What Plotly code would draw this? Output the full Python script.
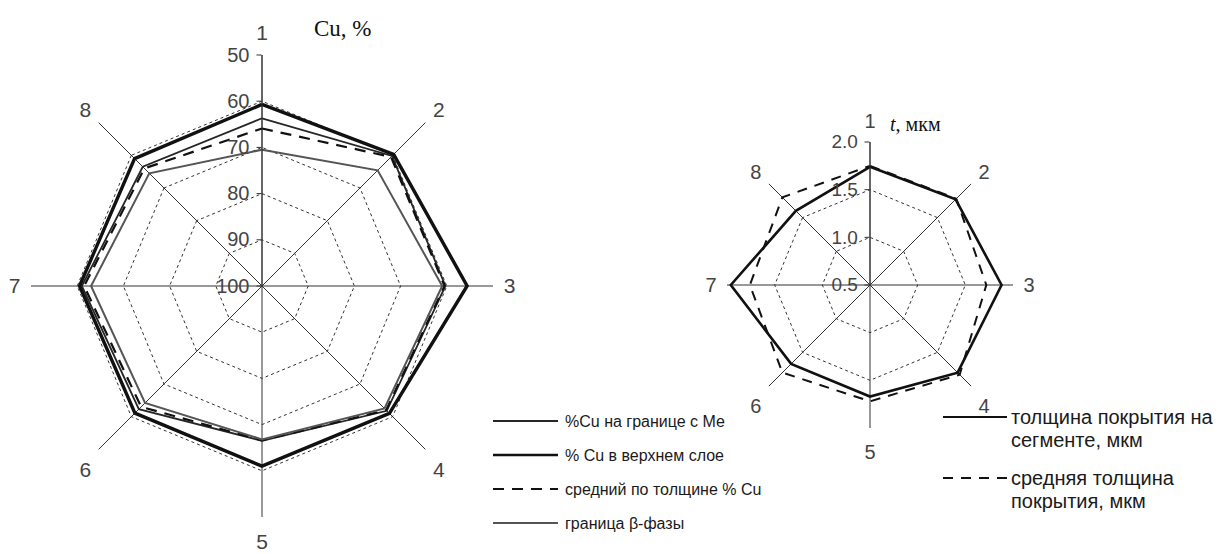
import plotly.graph_objects as go

# Segment numbers around each specimen
segments = ["1", "2", "3", "4", "5", "6", "7", "8"]

# Copper content, % (left diagram)
cu_me_boundary = [63.7, 60.2, 60.3, 61.8, 66.5, 62.3, 61.0, 63.5]
cu_top_layer = [60.7, 59.7, 55.6, 61.0, 61.0, 61.1, 60.5, 61.0]
cu_mean = [65.9, 60.5, 60.5, 62.0, 66.6, 63.0, 61.5, 64.0]
beta_boundary = [70.5, 64.6, 61.0, 62.5, 66.8, 64.2, 63.0, 65.5]

# Coating thickness, um (right diagram)
thickness_segment = [1.74, 1.77, 1.88, 1.80, 1.67, 1.67, 1.96, 1.60]
thickness_mean = [1.75, 1.78, 1.72, 1.83, 1.72, 1.80, 1.76, 1.80]

cu_ticks = [50, 60, 70, 80, 90, 100]
t_ticks = [0.5, 1.0, 1.5, 2.0]

W, H = 1226, 554
LABEL_FONT = "Liberation Sans, Arial, sans-serif"


def closed(seq):
    return list(seq) + [seq[0]]


fig = go.Figure()

cu_series = [
    ("%Cu на границе с Ме", cu_me_boundary, dict(color="#262626", width=1.8)),
    ("% Cu в верхнем слое", cu_top_layer, dict(color="#111111", width=3.4)),
    ("средний по толщине % Cu", cu_mean, dict(color="#111111", width=2.2, dash="11px,8px")),
    ("граница β-фазы", beta_boundary, dict(color="#555555", width=2.0)),
]
for name, vals, line in cu_series:
    fig.add_trace(go.Scatterpolar(
        r=closed(vals), theta=closed(segments), mode="lines", name=name,
        line=line, subplot="polar", showlegend=False,
    ))

t_series = [
    ("толщина покрытия на сегменте, мкм", thickness_segment, dict(color="#111111", width=2.6)),
    ("средняя толщина покрытия, мкм", thickness_mean, dict(color="#111111", width=2.0, dash="10px,8px")),
]
for name, vals, line in t_series:
    fig.add_trace(go.Scatterpolar(
        r=closed(vals), theta=closed(segments), mode="lines", name=name,
        line=line, subplot="polar2", showlegend=False,
    ))


def polar_layout(cx, cy, rad, rng, ticks, fmt, tick_size):
    return dict(
        domain=dict(x=[(cx - rad) / W, (cx + rad) / W],
                    y=[(H - cy - rad) / H, (H - cy + rad) / H]),
        gridshape="linear",
        bgcolor="white",
        radialaxis=dict(
            range=rng, tickvals=ticks, tickformat=fmt, angle=90,
            side="counterclockwise", showline=True, linecolor="#333333",
            linewidth=1, ticks="outside", ticklen=5, tickcolor="#333333",
            showgrid=True, gridcolor="#333333", gridwidth=1, griddash="3px,3px",
            tickfont=dict(family=LABEL_FONT, size=tick_size, color="#444444"),
            tickangle=90,
        ),
        angularaxis=dict(
            type="category", categoryarray=segments, rotation=90,
            direction="clockwise", showline=False, showgrid=True,
            gridcolor="#333333", gridwidth=1, ticks="outside", ticklen=6,
            tickcolor="rgba(0,0,0,0)",
            tickfont=dict(family=LABEL_FONT, size=tick_size + 1, color="#444444"),
        ),
    )


fig.update_layout(
    width=W, height=H,
    margin=dict(l=0, r=0, t=0, b=0),
    paper_bgcolor="white", plot_bgcolor="white",
    polar=polar_layout(262, 286, 231, [100, 50], cu_ticks, "d", 20),
    polar2=polar_layout(870, 285, 143, [0.5, 2.0], t_ticks, ".1f", 19),
    showlegend=False,
)


def px(x):
    return x / W


def py(y):
    return 1 - y / H


# Axis captions
fig.add_annotation(x=px(312), y=py(28), xref="paper", yref="paper",
                   text="Cu, %", showarrow=False, xanchor="left", yanchor="middle",
                   font=dict(family="Liberation Serif, Times New Roman, serif",
                             size=23, color="#111111"))
fig.add_annotation(x=px(888), y=py(124), xref="paper", yref="paper",
                   text="<i>t</i>, мкм", showarrow=False, xanchor="left", yanchor="middle",
                   font=dict(family="Liberation Serif, Times New Roman, serif",
                             size=20, color="#111111"))

# Key for the copper diagram
legend_font = dict(family="Liberation Sans, Arial, sans-serif", size=16, color="#1a1a1a")
rows_cu = [421, 455, 489, 523]
for (name, _, line), yy in zip(cu_series, rows_cu):
    fig.add_shape(type="line", xref="paper", yref="paper",
                  x0=px(493), x1=px(558), y0=py(yy), y1=py(yy),
                  line=dict(color=line["color"], width=min(line["width"], 2.6),
                            dash=line.get("dash", "solid")))
    fig.add_annotation(x=px(563), y=py(yy), xref="paper", yref="paper",
                       text=name, showarrow=False, xanchor="left", yanchor="middle",
                       font=legend_font)

# Key for the thickness diagram
legend_font2 = dict(family="Liberation Sans, Arial, sans-serif", size=20, color="#1a1a1a")
key_t = [
    (t_series[0][2], 417, ["толщина покрытия на", "сегменте, мкм"]),
    (t_series[1][2], 478, ["средняя толщина", "покрытия, мкм"]),
]
for line, yy, lines in key_t:
    fig.add_shape(type="line", xref="paper", yref="paper",
                  x0=px(943), x1=px(1007), y0=py(yy), y1=py(yy),
                  line=dict(color=line["color"], width=2.2,
                            dash=line.get("dash", "solid")))
    for i, txt in enumerate(lines):
        fig.add_annotation(x=px(1009), y=py(yy + 23 * i), xref="paper", yref="paper",
                           text=txt, showarrow=False, xanchor="left", yanchor="middle",
                           font=legend_font2)

fig.write_html("out.html")
